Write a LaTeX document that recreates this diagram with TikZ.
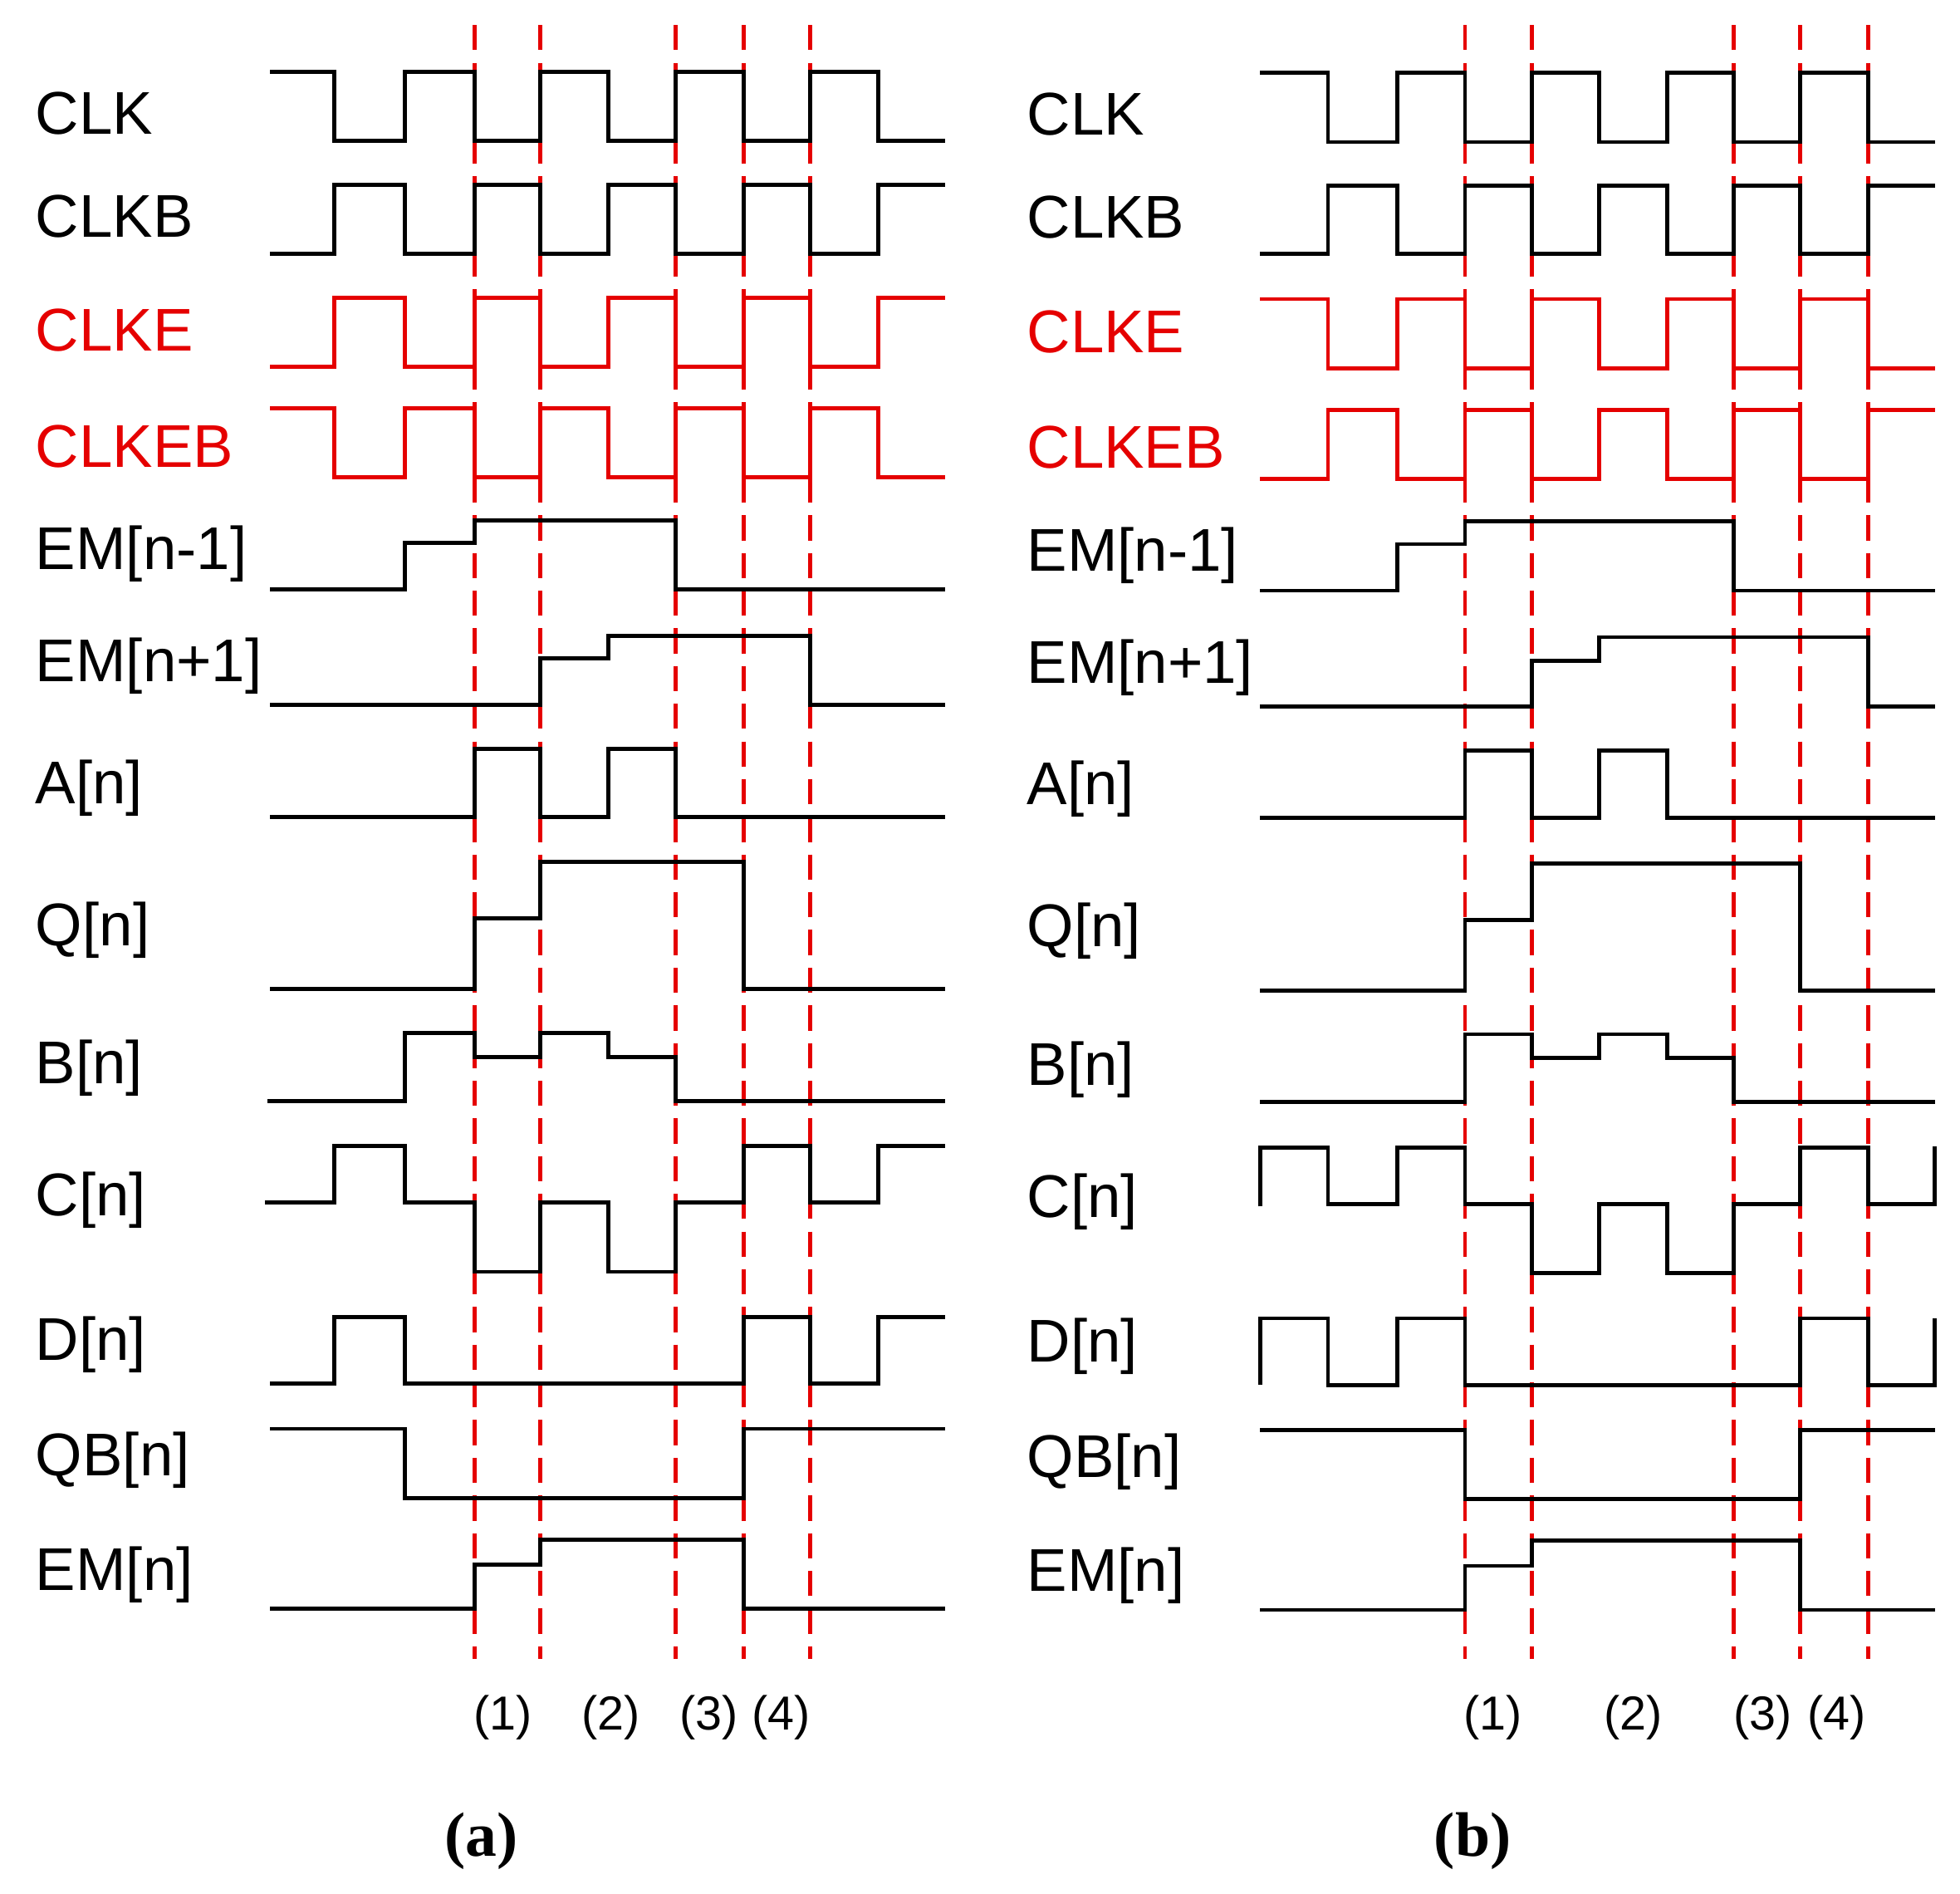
\documentclass[tikz,border=0pt]{standalone}
\usepackage{fontspec}
\setmainfont{Liberation Sans}
\newfontfamily\serif{Liberation Serif}
\begin{document}
\begin{tikzpicture}[x=0.5pt,y=-0.5pt,
  sig/.style={line width=1.6pt,line join=miter},
  rsig/.style={sig,red!90!black},
  grid/.style={red!90!black,line width=1.6pt,dash pattern=on 10pt off 5pt},
  lab/.style={anchor=west,font=\fontsize{24}{24}\selectfont,inner sep=0pt},
  rlab/.style={lab,text=red!90!black},
  num/.style={font=\fontsize{19}{19}\selectfont,inner sep=0pt},
  pcap/.style={font=\serif\bfseries\fontsize{25}{25}\selectfont,inner sep=0pt}]
\useasboundingbox (0,0) rectangle (1560,1507);
% ---------- panel (a)
\foreach \x in {378,430,538,592,645} \draw[grid] (\x,20) -- (\x,1320);
\draw[sig] (215,57) -| (266,112) -| (322,57) -| (378,112) -| (430,57) -| (484,112) -| (538,57) -| (592,112) -| (645,57) -| (699,112) -- (752,112);
\draw[sig] (215,202) -| (266,147) -| (322,202) -| (378,147) -| (430,202) -| (484,147) -| (538,202) -| (592,147) -| (645,202) -| (699,147) -- (752,147);
\draw[rsig] (215,292) -| (266,237) -| (322,292) -| (378,237) -| (430,292) -| (484,237) -| (538,292) -| (592,237) -| (645,292) -| (699,237) -- (752,237);
\draw[rsig] (215,325) -| (266,380) -| (322,325) -| (378,380) -| (430,325) -| (484,380) -| (538,325) -| (592,380) -| (645,325) -| (699,380) -- (752,380);
\draw[sig] (215,469) -| (322,432) -| (378,414) -| (538,469) -- (752,469);
\draw[sig] (215,561) -| (430,524) -| (484,506) -| (645,561) -- (752,561);
\draw[sig] (215,650) -| (378,596) -| (430,650) -| (484,596) -| (538,650) -- (752,650);
\draw[sig] (215,787) -| (378,731) -| (430,686) -| (592,787) -- (752,787);
\draw[sig] (213,876) -| (322,822) -| (378,841) -| (430,822) -| (484,841) -| (538,876) -- (752,876);
\draw[sig] (211,957) -| (266,912) -| (322,957) -| (378,1012) -| (430,957) -| (484,1012) -| (538,957) -| (592,912) -| (645,957) -| (699,912) -- (752,912);
\draw[sig] (215,1101) -| (266,1048) -| (322,1101) -| (592,1048) -| (645,1101) -| (699,1048) -- (752,1048);
\draw[sig] (215,1137) -| (322,1192) -| (592,1137) -- (752,1137);
\draw[sig] (215,1280) -| (378,1245) -| (430,1225) -| (592,1280) -- (752,1280);
\node[lab] (a1) at (28,90) {CLK};
\node[lab] (a2) at (28,172) {CLKB};
\node[rlab] (a3) at (28,263) {CLKE};
\node[rlab] (a4) at (28,355) {CLKEB};
\node[lab] (a5) at (28,441) {EM[n-1]};
\node[lab] (a6) at (28,530) {EM[n+1]};
\node[lab] (a7) at (28,627) {A[n]};
\node[lab] (a8) at (28,740) {Q[n]};
\node[lab] (a9) at (28,850) {B[n]};
\node[lab] (a10) at (28,955) {C[n]};
\node[lab] (a11) at (28,1070) {D[n]};
\node[lab] (a12) at (28,1162) {QB[n]};
\node[lab] (a13) at (28,1253) {EM[n]};
\node[num] (an1) at (400,1367) {(1)};
\node[num] (an2) at (486,1367) {(2)};
\node[num] (an3) at (564,1367) {(3)};
\node[num] (an4) at (622,1367) {(4)};
\node[pcap] (ca) at (383,1465) {(a)};
% ---------- panel (b)
\foreach \x in {1166,1219,1380,1433,1487} \draw[grid] (\x,20) -- (\x,1320);
\draw[sig] (1003,58) -| (1057,113) -| (1112,58) -| (1166,113) -| (1219,58) -| (1273,113) -| (1327,58) -| (1380,113) -| (1433,58) -| (1487,113) -- (1540,113);
\draw[sig] (1003,202) -| (1057,148) -| (1112,202) -| (1166,148) -| (1219,202) -| (1273,148) -| (1327,202) -| (1380,148) -| (1433,202) -| (1487,148) -- (1540,148);
\draw[rsig] (1003,238) -| (1057,293) -| (1112,238) -| (1166,293) -| (1219,238) -| (1273,293) -| (1327,238) -| (1380,293) -| (1433,238) -| (1487,293) -- (1540,293);
\draw[rsig] (1003,381) -| (1057,326) -| (1112,381) -| (1166,326) -| (1219,381) -| (1273,326) -| (1327,381) -| (1380,326) -| (1433,381) -| (1487,326) -- (1540,326);
\draw[sig] (1003,470) -| (1112,433) -| (1166,415) -| (1380,470) -- (1540,470);
\draw[sig] (1003,562) -| (1219,526) -| (1273,507) -| (1487,562) -- (1540,562);
\draw[sig] (1003,651) -| (1166,597) -| (1219,651) -| (1273,597) -| (1327,651) -- (1540,651);
\draw[sig] (1003,788) -| (1166,732) -| (1219,687) -| (1433,788) -- (1540,788);
\draw[sig] (1003,877) -| (1166,823) -| (1219,842) -| (1273,823) -| (1327,842) -| (1380,877) -- (1540,877);
\draw[sig] (1003,960) |- (1057,913) |- (1112,958) |- (1166,913) |- (1219,958) |- (1273,1013) |- (1327,958) |- (1380,1013) |- (1433,958) |- (1487,913) |- (1540,958) -- (1540,912);
\draw[sig] (1003,1102) |- (1057,1049) |- (1112,1102) |- (1166,1049) |- (1433,1102) |- (1487,1049) |- (1540,1102) -- (1540,1049);
\draw[sig] (1003,1138) -| (1166,1193) -| (1433,1138) -- (1540,1138);
\draw[sig] (1003,1281) -| (1166,1246) -| (1219,1226) -| (1433,1281) -- (1540,1281);
\node[lab] (b1) at (817,91) {CLK};
\node[lab] (b2) at (817,173) {CLKB};
\node[rlab] (b3) at (817,264) {CLKE};
\node[rlab] (b4) at (817,356) {CLKEB};
\node[lab] (b5) at (817,442) {EM[n-1]};
\node[lab] (b6) at (817,531) {EM[n+1]};
\node[lab] (b7) at (817,628) {A[n]};
\node[lab] (b8) at (817,741) {Q[n]};
\node[lab] (b9) at (817,851) {B[n]};
\node[lab] (b10) at (817,956) {C[n]};
\node[lab] (b11) at (817,1071) {D[n]};
\node[lab] (b12) at (817,1163) {QB[n]};
\node[lab] (b13) at (817,1254) {EM[n]};
\node[num] (bn1) at (1188,1367) {(1)};
\node[num] (bn2) at (1300,1367) {(2)};
\node[num] (bn3) at (1403,1367) {(3)};
\node[num] (bn4) at (1462,1367) {(4)};
\node[pcap] (cb) at (1172,1465) {(b)};
\end{tikzpicture}
\end{document}
